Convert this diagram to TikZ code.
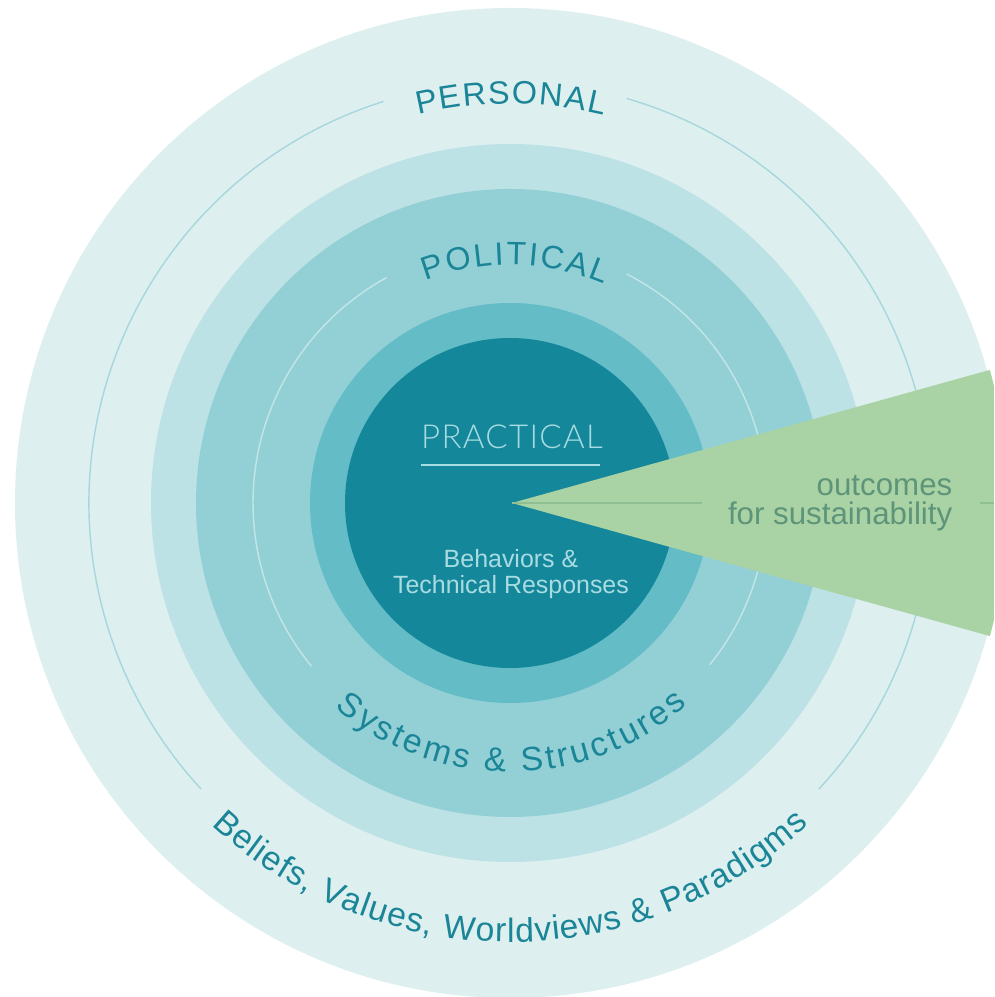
\documentclass[tikz,border=0pt]{standalone}
\usepackage{fontspec}
\setmainfont{Liberation Sans}
\IfFontExistsTF{Lato Light}{\newfontfamily\thinfont{Lato Light}[LetterSpace=4]}{\newfontfamily\thinfont{Liberation Sans}}
\usetikzlibrary{decorations.text}
\definecolor{ringE}{HTML}{DDEFEF}
\definecolor{ringD}{HTML}{BDE2E6}
\definecolor{ringC}{HTML}{93D0D6}
\definecolor{ringB}{HTML}{63BCC6}
\definecolor{ringA}{HTML}{15879A}
\definecolor{wedge}{HTML}{A9D3A5}
\definecolor{wedgeline}{HTML}{8FBF92}
\definecolor{lineout}{HTML}{A7D7DD}
\definecolor{linein}{HTML}{C3E5E8}
\definecolor{tealtxt}{HTML}{1B8598}
\definecolor{greentxt}{HTML}{5E9479}
\definecolor{coretxt}{HTML}{A8DCE2}
\def\ringtext[#1:#2](#3:#4:#5)#6{\begingroup\fontsize{#1}{#1}\selectfont
	\path[decorate,decoration={text along path,text align=center,text color=tealtxt,text={|\kern#2|#6}}] (#3:#5) arc (#3:#4:#5);\endgroup}

\begin{document}
\begin{tikzpicture}
		%%%%% START %%%%%
		
		\clip (-5.10, -4.94) rectangle (4.84, 5.03);
		
		\fill[ringE] (0, 0) circle (4.95);
		\draw[line width=0.4pt, color=lineout] (107.5:4.21) arc (107.5:222.8:4.21);
		\draw[line width=0.4pt, color=lineout] (-42.8:4.21) arc (-42.8:73.9:4.21);
		
		\fill[ringD] (0, 0) circle (3.59);
		\fill[ringC] (0, 0) circle (3.14);
		\draw[line width=0.4pt, color=linein] (118.6:2.57) arc (118.6:219.4:2.57);
		\draw[line width=0.4pt, color=linein] (-39:2.57) arc (-39:63:2.57);
		
		\fill[ringB] (0, 0) circle (2.00);
		\fill[ringA] (0, 0) circle (1.65);
		
		\fill[wedge] (0.02, 0) -- (-15.5:4.98) arc (-15.5:15.5:4.98) -- cycle;
		\draw[line width=0.3pt, color=wedgeline] (0.02, 0) -- (1.92, 0);
		\draw[line width=0.3pt, color=wedgeline] (4.70, 0) -- (4.84, 0);
		
		\ringtext[9.2pt:0.45pt](150:30:3.99){PERSONAL}
		\ringtext[9.2pt:0.63pt](139:39:2.38){POLITICAL}
		\catcode`\&=12
		\ringtext[9.6pt:0.9pt](210:330:2.69){Systems & Structures}
		\ringtext[9.6pt:0.3pt](205:335:4.39){Beliefs, Values, Worldviews & Paradigms}
		\catcode`\&=4
		
		\node[anchor=base, inner sep=0, color=coretxt, font=\thinfont\fontsize{9.4pt}{11pt}\selectfont] (practical) at (0.02, 0.54) {PRACTICAL};
		\draw[line width=0.6pt, color=coretxt] (-0.89, 0.38) -- (0.90, 0.38);
		\node[anchor=base, inner sep=0, align=center, color=coretxt, font=\fontsize{7.1pt}{7.4pt}\selectfont] (behaviors) at (0.01, -0.91) {Behaviors \&\\Technical Responses};
		
		\node[anchor=base east, inner sep=0, align=right, color=greentxt, font=\fontsize{8.9pt}{8.5pt}\selectfont] (outcomes) at (4.43, -0.22) {outcomes\\for sustainability};
		
		%%%%% END %%%%%
	\end{tikzpicture}
\end{document}
